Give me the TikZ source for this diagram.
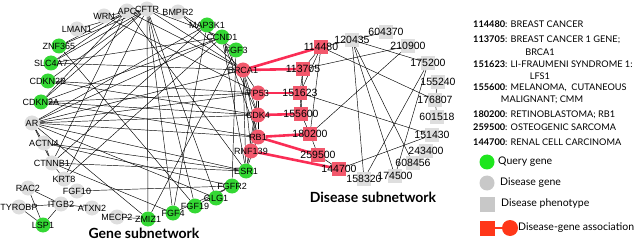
\documentclass[tikz,border=0pt]{standalone}
\usepackage{fontspec}
\setmainfont{Liberation Sans}
\newfontfamily\lgfont{Lato}
\usetikzlibrary{backgrounds}
\definecolor{qgreen}{RGB}{52,216,52}
\definecolor{dgray}{RGB}{222,222,222}
\definecolor{rnode}{RGB}{242,88,108}
\definecolor{redge}{RGB}{250,45,85}
\definecolor{sqgray}{RGB}{222,222,222}
\definecolor{lgreen}{RGB}{30,230,30}
\definecolor{lgray}{RGB}{200,200,200}
\definecolor{lred}{RGB}{255,55,25}
\begin{document}
\begin{tikzpicture}[x=1pt,y=-1pt,
  glab/.style={font=\fontsize{9}{9}\selectfont, inner sep=0pt, text=black},
  dlab/.style={font=\fontsize{10.5}{10.5}\selectfont, inner sep=0pt, text=black},
  gene/.style={circle, minimum size=15pt, inner sep=0pt, draw=none},
  qg/.style={gene, fill=qgreen, label={[glab]center:#1}},
  dg/.style={gene, fill=dgray, label={[glab]center:#1}},
  rg/.style={gene, fill=rnode, label={[glab]center:#1}},
  sq/.style={rectangle, minimum size=14pt, inner sep=0pt, draw=none},
  ds/.style={sq, fill=sqgray, label={[dlab]center:#1}},
  rs/.style={sq, fill=rnode, label={[dlab]center:#1}},
  edge/.style={draw=black, line width=0.45pt},
  assoc/.style={draw=redge, line width=2.6pt},
  legtext/.style={font=\lgfont\fontsize{9.2}{9.2}\selectfont, inner sep=0pt, anchor=west},
  legitem/.style={font=\lgfont\fontsize{10.5}{10.5}\selectfont, inner sep=0pt, anchor=west},
  title/.style={font=\lgfont\bfseries\fontsize{14}{14}\selectfont, inner sep=0pt}
]
\useasboundingbox (0,0) rectangle (639,240);

% gene subnetwork
\node[dg=WRN] (wrn) at (104,16) {};
\node[dg=APC] (apc) at (127,11) {};
\node[dg=CFTR] (cftr) at (147,9) {};
\node[dg=BMPR2] (bmpr2) at (178,12) {};
\node[dg=LMAN1] (lman1) at (77,29) {};
\node[qg=ZNF365] (znf) at (59,46) {};
\node[qg=SLC4A7] (slc) at (51,63) {};
\node[qg=CDKN2B] (cdkn2b) at (48,81) {};
\node[qg=CDKN2A] (cdkn2a) at (41,102) {};
\node[dg=AR] (ar) at (32,123) {};
\node[dg=ACTN4] (actn4) at (44,143) {};
\node[dg=CTNNB1] (ctnnb1) at (52,163) {};
\node[dg=KRT8] (krt8) at (64,179) {};
\node[dg=RAC2] (rac2) at (28,188) {};
\node[dg=FGF10] (fgf10) at (77,191) {};
\node[dg=TYROBP] (tyrobp) at (19,207) {};
\node[dg=ITGB2] (itgb2) at (61,204) {};
\node[dg=ATXN2] (atxn2) at (92,208) {};
\node[qg=LSP1] (lsp1) at (43,225) {};
\node[dg=MECP2] (mecp2) at (117,217) {};
\node[qg=ZMIZ1] (zmiz1) at (148,219) {};
\node[qg=FGF4] (fgf4) at (173,213) {};
\node[qg=FGF19] (fgf19) at (195,206) {};
\node[qg=GLG1] (glg1) at (216,198) {};
\node[qg=FGFR2] (fgfr2) at (232,186) {};
\node[qg=ESR1] (esr1) at (246,171) {};
\node[rg=RNF139] (rnf) at (251,151) {};
\node[rg=RB1] (rb1) at (258,137) {};
\node[rg=CDK4] (cdk4) at (258,115) {};
\node[rg=TP53] (tp53) at (258,93) {};
\node[rg=BRCA1] (brca1) at (243,70) {};
\node[qg=FGF3] (fgf3) at (236,50) {};
\node[qg=CCND1] (ccnd1) at (222,37) {};
\node[qg=MAP3K1] (map3k1) at (207,25) {};

% disease subnetwork
\node[rs=114480] (d114480) at (321,47) {};
\node[rs=113705] (d113705) at (303,69) {};
\node[rs=151623] (d151623) at (300,93) {};
\node[rs=155600] (d155600) at (301,114) {};
\node[rs=180200] (d180200) at (310,134) {};
\node[rs=259500] (d259500) at (318,155) {};
\node[rs=144700] (d144700) at (339,169) {};
\node[ds=120435] (d120435) at (352,40) {};
\node[ds=604370] (d604370) at (386,32) {};
\node[ds=210900] (d210900) at (408,46) {};
\node[ds=175200] (d175200) at (428,63) {};
\node[ds=155240] (d155240) at (438,82) {};
\node[ds=176807] (d176807) at (435,100) {};
\node[ds=601518] (d601518) at (437,117) {};
\node[ds=151430] (d151430) at (432,135) {};
\node[ds=243400] (d243400) at (426,151) {};
\node[ds=608456] (d608456) at (413,163) {};
\node[ds=174500] (d174500) at (395,176) {};
\node[ds=158320] (d158320) at (364,179) {};

\begin{scope}[on background layer]
\foreach \a/\b in {lman1/cftr, wrn/cftr, wrn/tp53, znf/cftr, znf/apc, slc/cftr, slc/apc,
  cdkn2b/cftr, cdkn2a/cftr, cdkn2a/apc, apc/ctnnb1, apc/brca1, apc/esr1, cftr/fgf4,
  cftr/zmiz1, cftr/fgf19, cftr/glg1, cftr/brca1, cftr/ccnd1, bmpr2/fgf3, bmpr2/brca1,
  map3k1/ar, map3k1/ctnnb1, ccnd1/ar, ccnd1/krt8, ccnd1/cdkn2a, ccnd1/cdk4, ccnd1/rb1,
  ccnd1/esr1, ccnd1/slc, fgf3/fgfr2, fgf3/zmiz1, fgf4/fgfr2, fgf19/fgfr2, fgf10/fgfr2,
  glg1/ar, fgfr2/actn4, esr1/ar, esr1/ctnnb1, esr1/brca1, esr1/tp53, esr1/rb1, esr1/cdk4,
  rnf/brca1, rnf/tp53, rb1/brca1, rb1/tp53, rb1/cdk4, rb1/ar, rb1/cdkn2a, cdk4/cdkn2a,
  cdk4/cdkn2b, cdk4/tp53, cdk4/ar, tp53/brca1, tp53/cdkn2b, tp53/cdkn2a, tp53/ar,
  brca1/slc, brca1/ar, ar/actn4, ar/ctnnb1, ar/zmiz1, actn4/ctnnb1, ctnnb1/krt8,
  ctnnb1/fgf4, itgb2/rac2, itgb2/tyrobp, itgb2/lsp1, tyrobp/lsp1, rac2/lsp1, itgb2/atxn2,
  mecp2/zmiz1, krt8/cftr, actn4/esr1, znf/fgf19, brca1/cdk4, map3k1/fgf4,
  d114480/d113705, d114480/d151623, d113705/d151623, d113705/d155600, d151623/d155600,
  d155600/d180200, d180200/d259500, d114480/d180200, d114480/d120435, d113705/d210900,
  d120435/d604370, d120435/d175200, d114480/d176807, d120435/d158320, d120435/d174500,
  d210900/d180200, d151623/d151430, d144700/d151430, d175200/d158320, d175200/d174500,
  d176807/d601518, d155240/d176807, d120435/d608456, d259500/d144700}
  \draw[edge] (\a) -- (\b);
\draw[assoc] (brca1) -- (d114480);
\draw[assoc] (brca1) -- (d113705);
\draw[assoc] (tp53) -- (d151623);
\draw[assoc] (cdk4) -- (d155600);
\draw[assoc] (rb1) -- (d180200);
\draw[assoc] (rb1) -- (d259500);
\draw[assoc] (rnf) -- (d144700);
\end{scope}

\node[title] (t1) at (144,233) {Gene subnetwork};
\node[title] (t2) at (373,197) {Disease subnetwork};

% legend text
\node[legtext] (l1) at (473,24) {\textbf{114480}: BREAST CANCER};
\node[legtext] (l2) at (473,40) {\textbf{113705}: BREAST CANCER 1 GENE;};
\node[legtext, anchor=center] (l2b) at (540,52) {BRCA1};
\node[legtext] (l3) at (473,64) {\textbf{151623}: LI-FRAUMENI SYNDROME 1:};
\node[legtext, anchor=center] (l3b) at (540,76) {LFS1};
\node[legtext] (l4) at (473,88) {\textbf{155600}: MELANOMA,\ \ CUTANEOUS};
\node[legtext, anchor=center] (l4b) at (542,100) {MALIGNANT; CMM};
\node[legtext] (l5) at (473,115) {\textbf{180200}: RETINOBLASTOMA; RB1};
\node[legtext] (l6) at (473,127) {\textbf{259500}: OSTEOGENIC SARCOMA};
\node[legtext] (l7) at (473,142) {\textbf{144700}: RENAL CELL CARCINOMA};

% legend symbols
\node[circle, minimum size=15pt, inner sep=0pt, fill=lgreen] (lq) at (487,162) {};
\node[legitem] (lqt) at (498,162) {Query gene};
\node[circle, minimum size=15pt, inner sep=0pt, fill=lgray] (ld) at (487,183) {};
\node[legitem] (ldt) at (500,183) {Disease gene};
\node[rectangle, minimum size=15pt, inner sep=0pt, fill=lgray] (lp) at (487,204) {};
\node[legitem] (lpt) at (501,204) {Disease phenotype};
\node[rectangle, minimum size=15pt, inner sep=0pt, fill=lred] (las) at (487,228) {};
\node[circle, minimum size=16pt, inner sep=0pt, fill=lred] (lac) at (510,228) {};
\draw[draw=lred, line width=1.5pt] (las) -- (lac);
\node[legitem] (lat) at (518,228) {Disease-gene association};
\end{tikzpicture}
\end{document}
